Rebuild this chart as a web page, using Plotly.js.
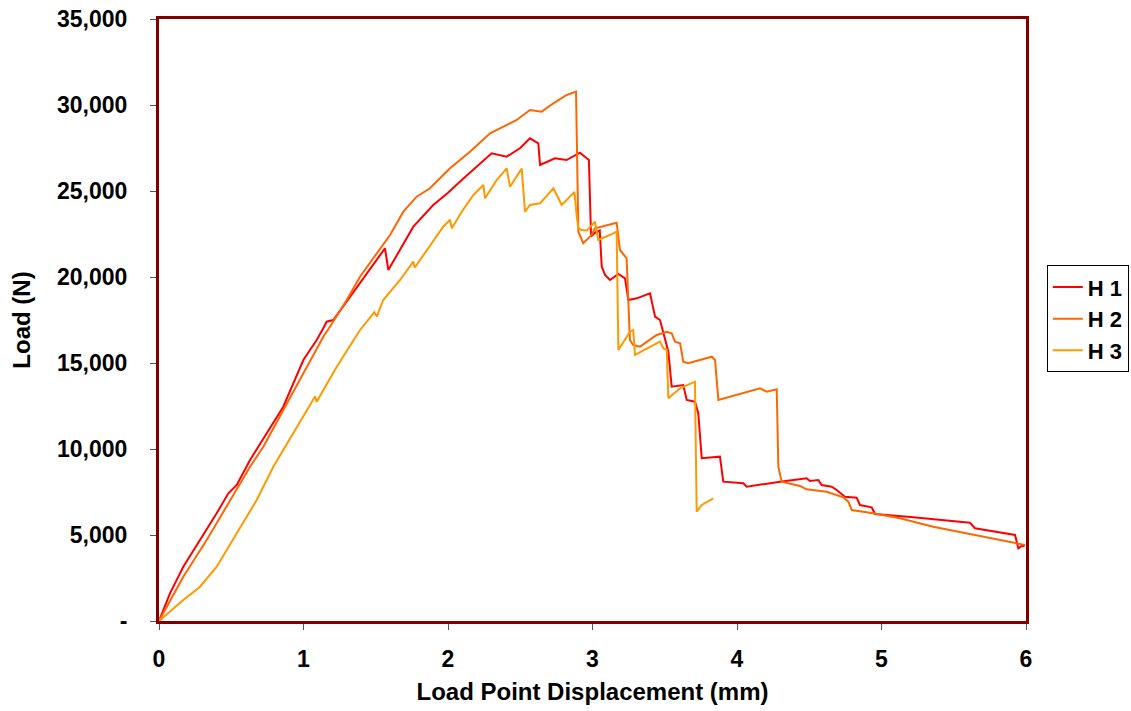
<!DOCTYPE html>
<html><head><meta charset="utf-8">
<script src="https://cdn.plot.ly/plotly-3.0.1.min.js"></script>
<style>html,body{margin:0;padding:0;background:#fff;}#chart{width:1131px;height:711px;}</style>
</head><body><div id="chart"></div>
<script>
const seriesNames = ['H 1','H 2','H 3'];
const seriesColors = ['#FF0000','#FF6600','#FF9900'];

const h1X = [0,0.076,0.168,0.284,0.399,0.48,0.538,0.63,0.745,0.86,0.999,1.091,1.137,1.16,1.206,1.3,1.4,1.5,1.564,1.587,1.65,1.76,1.898,2.0,2.095,2.2,2.302,2.406,2.5,2.567,2.625,2.637,2.74,2.82,2.913,2.96,2.975,2.99,3.02,3.05,3.064,3.087,3.121,3.179,3.225,3.248,3.306,3.398,3.433,3.467,3.525,3.548,3.628,3.652,3.709,3.732,3.756,3.882,3.905,4.044,4.067,4.298,4.482,4.505,4.563,4.586,4.655,4.69,4.747,4.828,4.851,4.932,4.955,5.22,5.612,5.647,5.774,5.924,5.947,5.97,5.99];
const h1Y = [0,1610,3157,4709,6262,7425,7907,9360,10913,12460,15175,16337,17017,17400,17500,18600,19700,20900,21669,20407,21300,22925,24186,24900,25640,26400,27191,26995,27500,28064,27773,26512,26900,26800,27228,26900,26800,22350,22600,22700,20600,20117,19826,20175,19924,18663,18760,19052,17692,17500,15657,13622,13720,12849,12750,12076,9460,9553,8100,8006,7808,8100,8297,8140,8198,7907,7808,7616,7227,7169,6744,6610,6221,6029,5715,5390,5192,5000,4227,4361,4361];

const h2X = [0,0.168,0.33,0.491,0.63,0.722,0.86,0.999,1.137,1.183,1.299,1.391,1.599,1.691,1.783,1.875,2.014,2.152,2.291,2.383,2.475,2.567,2.648,2.729,2.821,2.886,2.902,2.936,2.994,3.017,3.098,3.167,3.19,3.236,3.259,3.282,3.329,3.444,3.514,3.548,3.571,3.606,3.628,3.663,3.825,3.848,3.871,4.032,4.159,4.206,4.275,4.286,4.309,4.436,4.482,4.62,4.736,4.77,4.794,4.943,5.128,5.358,5.589,5.82,5.947,5.993];
const h2Y = [0,2576,4709,7035,8971,10134,12268,14401,16530,17110,18663,20018,22441,23796,24668,25156,26319,27285,28355,28738,29128,29709,29612,30100,30582,30775,22634,21960,22442,22830,23023,23158,21570,21088,16337,16046,15949,16628,16820,16727,16240,16146,15076,14983,15367,15174,12849,13239,13530,13332,13471,8971,8100,7850,7657,7518,7192,6936,6454,6262,5971,5483,5099,4709,4477,4419];

const h3X = [0,0.168,0.284,0.399,0.538,0.676,0.791,0.929,1.068,1.08,1.091,1.23,1.391,1.49,1.507,1.552,1.668,1.76,1.77,1.852,1.967,2.014,2.026,2.095,2.176,2.245,2.256,2.337,2.406,2.429,2.51,2.533,2.567,2.637,2.729,2.787,2.867,2.875,2.891,2.902,2.925,2.96,3.017,3.04,3.144,3.167,3.179,3.259,3.282,3.294,3.467,3.49,3.514,3.525,3.606,3.709,3.721,3.756,3.836];
const h3Y = [0,1221,1996,3157,5099,7035,8971,10913,12849,13050,12750,14785,16919,17950,17700,18663,19826,20890,20550,21570,22925,23332,22830,23796,24767,25350,24575,25640,26320,25250,26300,23796,24186,24283,25156,24186,24865,24950,23506,22830,22733,22700,23215,22150,22540,22634,15756,16820,16919,15465,16240,15855,15756,12948,13530,13913,6355,6744,7134];

const yTickVals = [0,5000,10000,15000,20000,25000,30000,35000];
const yTickText = ['-','5,000','10,000','15,000','20,000','25,000','30,000','35,000'];
const xTickVals = [0,1,2,3,4,5,6];
const xTickText = ['0','1','2','3','4','5','6'];

const FONT = 'Liberation Sans, Arial, sans-serif';
const xs = [h1X,h2X,h3X], ys = [h1Y,h2Y,h3Y];
const traces = seriesNames.map((n,i)=>({
  x: xs[i], y: ys[i], name: n, type:'scatter', mode:'lines',
  line:{color:seriesColors[i], width:2}
}));

const layout = {
  width:1131, height:711,
  margin:{l:159, r:105, t:19, b:90, autoexpand:false},
  paper_bgcolor:'#fff', plot_bgcolor:'#fff',
  showlegend:true,
  legend:{x:1.024, xanchor:'left', y:0.502, yanchor:'middle', bordercolor:'#000', borderwidth:1,
    font:{family:FONT, size:22, weight:'bold', color:'#000'}, tracegroupgap:0, itemwidth:30},
  xaxis:{range:[0,6], tickvals:xTickVals, ticktext:xTickText, ticks:'outside', ticklen:6, tickcolor:'#555',
    showgrid:false, zeroline:false, showline:true, linecolor:'#800000', linewidth:3, mirror:true,
    ticklabelstandoff:9, automargin:false,
    tickfont:{family:FONT, size:23, weight:'bold', color:'#000'},
    title:{text:'Load Point Displacement (mm)', font:{family:FONT, size:24, weight:'bold', color:'#000'}, standoff:13}},
  yaxis:{range:[0,35000], tickvals:yTickVals, ticktext:yTickText, ticks:'outside', ticklen:6, tickcolor:'#555',
    showgrid:false, zeroline:false, showline:true, linecolor:'#800000', linewidth:3, mirror:true,
    ticklabelstandoff:18, automargin:false,
    tickfont:{family:FONT, size:23, weight:'bold', color:'#000'},
    title:{text:'Load (N)', font:{family:FONT, size:24, weight:'bold', color:'#000'}, standoff:20}}
};
Plotly.newPlot('chart', traces, layout, {displayModeBar:false, staticPlot:true});
</script></body></html>
